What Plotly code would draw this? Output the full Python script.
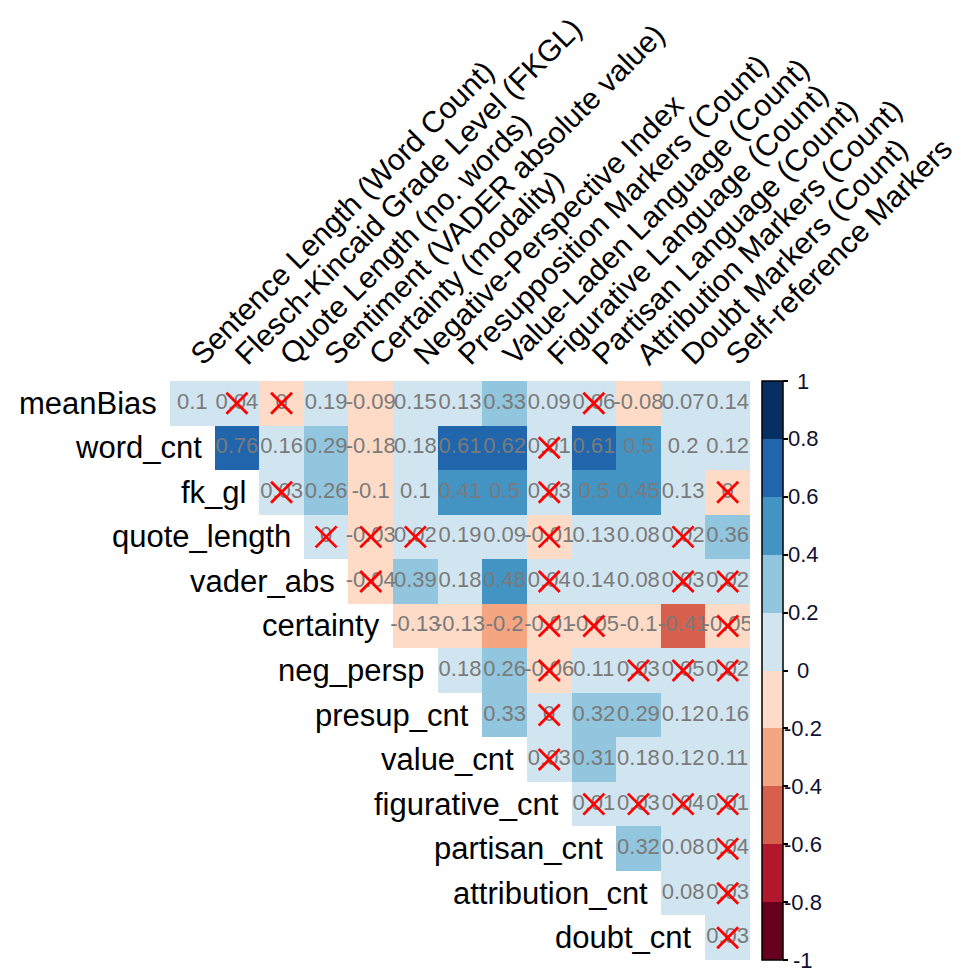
import plotly.graph_objects as go
import numpy as np

col_labels = ["Sentence Length (Word Count)", "Flesch-Kincaid Grade Level (FKGL)",
              "Quote Length (no. words)", "Sentiment (VADER absolute value)",
              "Certainty (modality)", "Negative-Perspective Index",
              "Presupposition Markers (Count)", "Value-Laden Language (Count)",
              "Figurative Language (Count)", "Partisan Language (Count)",
              "Attribution Markers (Count)", "Doubt Markers (Count)",
              "Self-reference Markers"]
row_labels = ["meanBias", "word_cnt", "fk_gl", "quote_length", "vader_abs", "certainty",
              "neg_persp", "presup_cnt", "value_cnt", "figurative_cnt", "partisan_cnt",
              "attribution_cnt", "doubt_cnt"]

# upper-triangle correlations: row i starts at column i
r_meanBias = [0.1, 0.04, -0.004, 0.19, -0.09, 0.15, 0.13, 0.33, 0.09, 0.06, -0.08, 0.07, 0.14]
r_word_cnt = [0.76, 0.16, 0.29, -0.18, 0.18, 0.61, 0.62, 0.01, 0.61, 0.5, 0.198, 0.12]
r_fk_gl = [0.03, 0.26, -0.1, 0.1, 0.41, 0.5, 0.03, 0.5, 0.45, 0.13, -0.004]
r_quote_length = [0.004, -0.03, 0.02, 0.19, 0.09, -0.01, 0.13, 0.08, 0.02, 0.36]
r_vader_abs = [-0.04, 0.39, 0.18, 0.48, 0.04, 0.14, 0.08, 0.03, 0.02]
r_certainty = [-0.13, -0.13, -0.202, -0.01, -0.05, -0.1, -0.41, -0.05]
r_neg_persp = [0.18, 0.26, -0.06, 0.11, 0.03, 0.05, 0.02]
r_presup_cnt = [0.33, 0.004, 0.32, 0.29, 0.12, 0.16]
r_value_cnt = [0.03, 0.31, 0.18, 0.12, 0.11]
r_figurative_cnt = [0.01, 0.03, 0.04, 0.01]
r_partisan_cnt = [0.32, 0.08, 0.04]
r_attribution_cnt = [0.08, 0.03]
r_doubt_cnt = [0.03]

# 1 = not significant (crossed out)
ns_meanBias = [0, 1, 1, 0, 0, 0, 0, 0, 0, 1, 0, 0, 0]
ns_word_cnt = [0, 0, 0, 0, 0, 0, 0, 1, 0, 0, 0, 0]
ns_fk_gl = [1, 0, 0, 0, 0, 0, 1, 0, 0, 0, 1]
ns_quote_length = [1, 1, 1, 0, 0, 1, 0, 0, 1, 0]
ns_vader_abs = [1, 0, 0, 0, 1, 0, 0, 1, 1]
ns_certainty = [0, 0, 0, 1, 1, 0, 0, 1]
ns_neg_persp = [0, 0, 1, 0, 1, 1, 1]
ns_presup_cnt = [0, 1, 0, 0, 0, 0]
ns_value_cnt = [1, 0, 0, 0, 0]
ns_figurative_cnt = [1, 1, 1, 1]
ns_partisan_cnt = [0, 0, 1]
ns_attribution_cnt = [0, 1]
ns_doubt_cnt = [1]

rows = [r_meanBias, r_word_cnt, r_fk_gl, r_quote_length, r_vader_abs, r_certainty,
        r_neg_persp, r_presup_cnt, r_value_cnt, r_figurative_cnt, r_partisan_cnt,
        r_attribution_cnt, r_doubt_cnt]
ns_rows = [ns_meanBias, ns_word_cnt, ns_fk_gl, ns_quote_length, ns_vader_abs, ns_certainty,
           ns_neg_persp, ns_presup_cnt, ns_value_cnt, ns_figurative_cnt, ns_partisan_cnt,
           ns_attribution_cnt, ns_doubt_cnt]

legend_ticks = [-1, -0.8, -0.6, -0.4, -0.2, 0, 0.2, 0.4, 0.6, 0.8, 1]

FONT = "Liberation Sans, Arial"
n = len(col_labels)
z = np.full((n, n), np.nan)
for i, r in enumerate(rows):
    for k, v in enumerate(r):
        z[i, i + k] = v

def fmt(v):
    s = f"{round(v, 2):.2f}".rstrip("0").rstrip(".")
    if s in ("-0", "-0.", ""):
        s = "0"
    return s

tx, ty, tt, xx, xy = [], [], [], [], []
for i, r in enumerate(rows):
    for k, v in enumerate(r):
        tx.append(i + k); ty.append(i); tt.append(fmt(v))
        if ns_rows[i][k]:
            xx.append(i + k); xy.append(i)

cols = ["#67001F", "#B2182B", "#D6604D", "#F4A582", "#FDDBC7",
        "#D1E5F0", "#92C5DE", "#4393C3", "#2166AC", "#053061"]
cs = []
for j, c in enumerate(cols):
    cs.append([j / 10, c]); cs.append([(j + 1) / 10, c])

fig = go.Figure()
fig.add_trace(go.Heatmap(
    z=z, x=list(range(n)), y=list(range(n)), colorscale=cs, zmin=-1, zmax=1,
    hoverongaps=False, xgap=0, ygap=0,
    colorbar=dict(x=1.0207, xanchor="left", xpad=0, ypad=0, y=0.5, yanchor="middle",
                  len=1.0, lenmode="fraction",
                  thickness=21, outlinewidth=1.5, outlinecolor="black",
                  tickvals=legend_ticks, ticks="outside", showticklabels=False,
                  ticklen=5, tickwidth=1.5, tickcolor="black")))
fig.add_trace(go.Scatter(x=tx, y=ty, text=tt, mode="text", hoverinfo="skip",
                         textfont=dict(family=FONT, size=22, color="#7a7a7a"),
                         showlegend=False))
fig.add_trace(go.Scatter(x=xx, y=xy, mode="markers", hoverinfo="skip", showlegend=False,
                         marker=dict(symbol="x-thin", size=21, color="red",
                                     line=dict(width=2.8, color="red"))))

for i, lab in enumerate(row_labels):
    fig.add_annotation(x=i - 0.5, y=i, xref="x", yref="y", text=lab, showarrow=False,
                       xanchor="right", yanchor="middle", xshift=-11,
                       font=dict(family=FONT, size=31, color="black"))

for t in legend_ticks:
    fig.add_annotation(x=1.0914, y=(t + 1) / 2, xref="paper", yref="paper", text=fmt(t),
                       showarrow=False, xanchor="center", yanchor="middle",
                       font=dict(family=FONT, size=22, color="#101030"))

fig.update_xaxes(range=[-0.5, n - 0.5], side="top", tickvals=list(range(n)), ticktext=col_labels,
                 tickangle=-45, showgrid=False, zeroline=False, ticks="",
                 ticklabelstandoff=3, automargin=False,
                 tickfont=dict(family=FONT, size=30, color="black"))
fig.update_yaxes(range=[n - 0.5, -0.5], showticklabels=False, showgrid=False, zeroline=False,
                 automargin=False)
fig.update_layout(width=969, height=978, margin=dict(l=162, r=227, t=373, b=26, autoexpand=False),
                  plot_bgcolor="white", paper_bgcolor="white")
fig.write_html("out.html")
